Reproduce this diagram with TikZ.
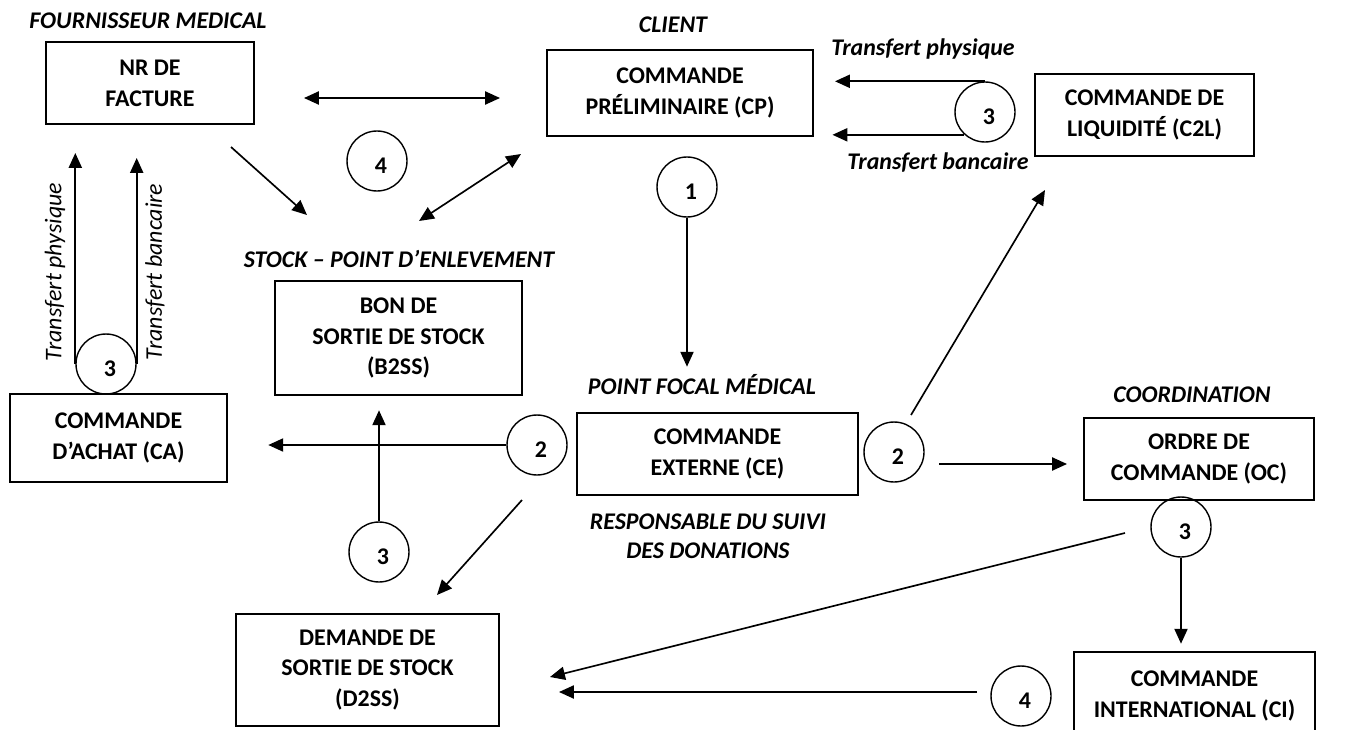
\documentclass[tikz,border=0pt]{standalone}
\usepackage{fontspec}
\setmainfont{Carlito}
\usetikzlibrary{arrows.meta}

\begin{document}
\begin{tikzpicture}[x=0.02cm, y=-0.02cm,
        box/.style={draw, line width=1.1pt, align=center, inner sep=0pt,
            font=\bfseries\fontsize{13.6}{17.5}\selectfont},
        num/.style={draw, circle, line width=0.8pt, minimum size=1.2cm, inner sep=0pt,
            label={[xshift=0.08cm, yshift=-0.1cm, font=\bfseries\fontsize{13.6}{15}\selectfont]center:#1}},
        role/.style={align=center, font=\bfseries\itshape\fontsize{13.6}{16.5}\selectfont},
        rlabel/.style={rotate=90, font=\itshape\fontsize{13.6}{15}\selectfont},
        arr/.style={line width=0.95pt, -{Triangle[length=8.5pt, width=7.5pt]}},
        darr/.style={line width=0.95pt, {Triangle[length=8.5pt, width=7.5pt]}-{Triangle[length=8.5pt, width=7.5pt]}}]
    \useasboundingbox (0,0) rectangle (1349,730);

    \node[role] (fournisseur) at (148,21) {FOURNISSEUR MEDICAL};
    \node[box, minimum width=4.16cm, minimum height=1.64cm] (nr) at (150,83) {NR DE\\FACTURE};
    \node[role] (client) at (673,25) {CLIENT};
    \node[box, minimum width=5.32cm, minimum height=1.72cm] (cp) at (680,93) {COMMANDE\\PRÉLIMINAIRE (CP)};
    \node[role] (tphys) at (923,49) {Transfert physique};
    \node[role] (tbanc) at (938,163) {Transfert bancaire};
    \node[num=3] (c3t) at (985,112) {};
    \node[box, minimum width=4.38cm, minimum height=1.64cm] (c2l) at (1144.5,115) {COMMANDE DE\\LIQUIDITÉ (C2L)};
    \node[num=4] (c4a) at (377,161) {};
    \node[num=1] (c1) at (687,187) {};

    \node[role] (stock) at (399,259) {STOCK – POINT D’ENLEVEMENT};
    \node[box, minimum width=4.94cm, minimum height=2.28cm] (b2ss) at (398.5,338) {BON DE\\SORTIE DE STOCK\\(B2SS)};
    \node[rlabel] (lphys) at (55,272) {Transfert physique};
    \node[rlabel] (lbanc) at (155,272) {Transfert bancaire};
    \node[num=3] (c3a) at (106,364) {};
    \node[box, minimum width=4.34cm, minimum height=1.76cm] (ca) at (118.5,438) {COMMANDE\\D’ACHAT (CA)};

    \node[role] (focal) at (702,385) {POINT FOCAL MÉDICAL};
    \node[num=2] (c2a) at (537,445) {};
    \node[box, minimum width=5.62cm, minimum height=1.64cm] (ce) at (717.5,454) {COMMANDE\\EXTERNE (CE)};
    \node[role] (suivi) at (708,536) {RESPONSABLE DU SUIVI\\DES DONATIONS};
    \node[num=2] (c2b) at (894,452) {};
    \node[role] (coord) at (1192,395) {COORDINATION};
    \node[box, minimum width=4.6cm, minimum height=1.64cm] (oc) at (1199,459) {ORDRE DE\\COMMANDE (OC)};
    \node[num=3] (c3b) at (379,552) {};
    \node[num=3] (c3c) at (1181,527) {};
    \node[box, minimum width=5.26cm, minimum height=2.24cm] (d2ss) at (367.5,670) {DEMANDE DE\\SORTIE DE STOCK\\(D2SS)};
    \node[box, minimum width=4.82cm, minimum height=1.76cm] (ci) at (1194.5,696) {COMMANDE\\INTERNATIONAL (CI)};
    \node[num=4] (c4b) at (1021,696) {};

    \coordinate (nrcpL) at (304,98);
    \coordinate (nrcpR) at (500,98);
    \coordinate (nrstA) at (231,147);
    \coordinate (nrstB) at (307,215);
    \coordinate (cpstA) at (521,154);
    \coordinate (cpstB) at (419,221);
    \coordinate (d2A) at (522,500);
    \coordinate (d2B) at (437,595);
    \coordinate (liqA) at (911,415);
    \coordinate (liqB) at (1045,190);
    \coordinate (ocA) at (939,464);
    \coordinate (ocB) at (1067,464);
    \coordinate (intA) at (1125,533);
    \coordinate (intB) at (550,677);
    \coordinate (retA) at (977,692);
    \coordinate (retB) at (559,692);

    \draw[darr] (nrcpL) -- (nrcpR);
    \draw[arr] (nrstA) -- (nrstB);
    \draw[darr] (cpstA) -- (cpstB);
    \draw[arr] (c3t.north) -- ++(-150,0);
    \draw[arr] (c3t.228) -- ++(-132,0);
    \draw[arr] (c3a.west) -- ++(0,-211);
    \draw[arr] (c3a.east) -- ++(0,-206);
    \draw[arr] (c1.south) -- ++(0,149);
    \draw[arr] (c2a.west) -- ++(-238,0);
    \draw[arr] (c3b.north) -- ++(0,-111);
    \draw[arr] (d2A) -- (d2B);
    \draw[arr] (liqA) -- (liqB);
    \draw[arr] (ocA) -- (ocB);
    \draw[arr] (c3c.south) -- ++(0,86);
    \draw[arr] (intA) -- (intB);
    \draw[arr] (retA) -- (retB);
\end{tikzpicture}
\end{document}
